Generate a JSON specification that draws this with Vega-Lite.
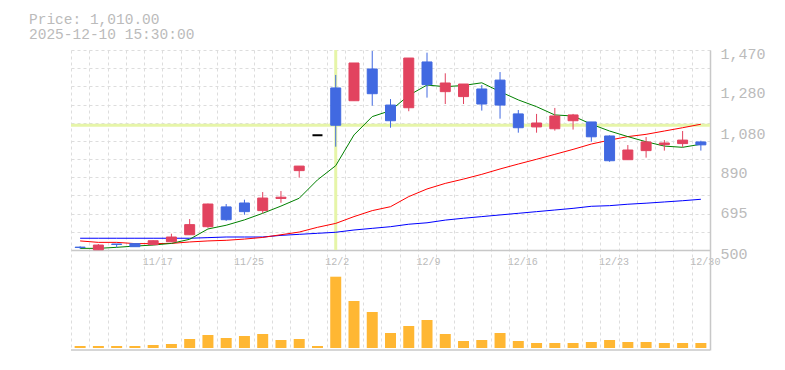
{
  "$schema": "https://vega.github.io/schema/vega-lite/v6.json",
  "width": 639,
  "height": 300,
  "autosize": {"type": "none"},
  "padding": {"left": 71, "top": 50, "right": 75, "bottom": 20},
  "background": "white",
  "config": {"view": {"stroke": null}, "font": "Liberation Mono"},
  "title": {
    "text": ["Price: 1,010.00", "2025-12-10 15:30:00"],
    "anchor": "start", "frame": "group", "orient": "top",
    "offset": 27, "dx": -42, "dy": 34, "baseline": "alphabetic", "lineHeight": 15,
    "font": "Liberation Mono", "fontSize": 14.5, "fontWeight": "normal", "color": "#bbbbbb"
  },
  "data": {"values": [
    {"date": "11/11", "open": 514, "high": 518, "low": 506, "close": 512, "volume": 20, "ma5": 508, "ma25": 544, "ma75": 557},
    {"date": "11/12", "open": 501, "high": 529, "low": 501, "close": 524, "volume": 20, "ma5": 508, "ma25": 537, "ma75": 557},
    {"date": "11/13", "open": 529, "high": 529, "low": 513, "close": 527, "volume": 20, "ma5": 513, "ma25": 537, "ma75": 557},
    {"date": "11/14", "open": 531, "high": 531, "low": 516, "close": 516, "volume": 20, "ma5": 519, "ma25": 531, "ma75": 557},
    {"date": "11/17", "open": 526, "high": 547, "low": 526, "close": 545, "volume": 30, "ma5": 524, "ma25": 531, "ma75": 557},
    {"date": "11/18", "open": 540, "high": 579, "low": 540, "close": 563, "volume": 40, "ma5": 532, "ma25": 532, "ma75": 557},
    {"date": "11/19", "open": 574, "high": 650, "low": 574, "close": 623, "volume": 90, "ma5": 552, "ma25": 539, "ma75": 557},
    {"date": "11/20", "open": 613, "high": 725, "low": 608, "close": 723, "volume": 130, "ma5": 602, "ma25": 544, "ma75": 560},
    {"date": "11/21", "open": 709, "high": 723, "low": 641, "close": 647, "volume": 100, "ma5": 620, "ma25": 547, "ma75": 563},
    {"date": "11/25", "open": 728, "high": 744, "low": 671, "close": 686, "volume": 120, "ma5": 646, "ma25": 553, "ma75": 563},
    {"date": "11/26", "open": 691, "high": 781, "low": 678, "close": 752, "volume": 140, "ma5": 678, "ma25": 561, "ma75": 563},
    {"date": "11/27", "open": 750, "high": 786, "low": 729, "close": 756, "volume": 80, "ma5": 713, "ma25": 574, "ma75": 571},
    {"date": "11/28", "open": 885, "high": 907, "low": 851, "close": 907, "volume": 90, "ma5": 751, "ma25": 587, "ma75": 576},
    {"date": "12/1", "open": 1057, "high": 1057, "low": 1057, "close": 1057, "volume": 20, "ma5": 840, "ma25": 610, "ma75": 581},
    {"date": "12/2", "open": 1286, "high": 1349, "low": 1001, "close": 1105, "volume": 713, "ma5": 909, "ma25": 629, "ma75": 586},
    {"date": "12/3", "open": 1224, "high": 1407, "low": 1224, "close": 1407, "volume": 470, "ma5": 1058, "ma25": 662, "ma75": 597},
    {"date": "12/4", "open": 1378, "high": 1465, "low": 1200, "close": 1258, "volume": 360, "ma5": 1147, "ma25": 691, "ma75": 605},
    {"date": "12/5", "open": 1203, "high": 1232, "low": 1093, "close": 1127, "volume": 150, "ma5": 1176, "ma25": 710, "ma75": 613},
    {"date": "12/8", "open": 1190, "high": 1431, "low": 1173, "close": 1431, "volume": 220, "ma5": 1250, "ma25": 759, "ma75": 625},
    {"date": "12/9", "open": 1412, "high": 1457, "low": 1239, "close": 1302, "volume": 280, "ma5": 1300, "ma25": 796, "ma75": 632},
    {"date": "12/10", "open": 1268, "high": 1357, "low": 1208, "close": 1310, "volume": 140, "ma5": 1292, "ma25": 823, "ma75": 645},
    {"date": "12/11", "open": 1244, "high": 1305, "low": 1208, "close": 1305, "volume": 70, "ma5": 1298, "ma25": 844, "ma75": 654},
    {"date": "12/12", "open": 1281, "high": 1300, "low": 1176, "close": 1208, "volume": 80, "ma5": 1311, "ma25": 867, "ma75": 662},
    {"date": "12/15", "open": 1324, "high": 1363, "low": 1137, "close": 1203, "volume": 150, "ma5": 1268, "ma25": 893, "ma75": 670},
    {"date": "12/16", "open": 1160, "high": 1179, "low": 1069, "close": 1093, "volume": 70, "ma5": 1228, "ma25": 917, "ma75": 678},
    {"date": "12/17", "open": 1097, "high": 1160, "low": 1069, "close": 1116, "volume": 50, "ma5": 1195, "ma25": 940, "ma75": 686},
    {"date": "12/18", "open": 1088, "high": 1189, "low": 1079, "close": 1150, "volume": 50, "ma5": 1155, "ma25": 964, "ma75": 694},
    {"date": "12/19", "open": 1127, "high": 1160, "low": 1084, "close": 1155, "volume": 50, "ma5": 1150, "ma25": 988, "ma75": 702},
    {"date": "12/22", "open": 1121, "high": 1121, "low": 1025, "close": 1049, "volume": 60, "ma5": 1110, "ma25": 1014, "ma75": 712},
    {"date": "12/23", "open": 1053, "high": 1056, "low": 928, "close": 933, "volume": 80, "ma5": 1077, "ma25": 1033, "ma75": 715},
    {"date": "12/24", "open": 938, "high": 1009, "low": 938, "close": 985, "volume": 60, "ma5": 1050, "ma25": 1050, "ma75": 722},
    {"date": "12/25", "open": 982, "high": 1048, "low": 948, "close": 1024, "volume": 60, "ma5": 1025, "ma25": 1061, "ma75": 727},
    {"date": "12/26", "open": 1011, "high": 1033, "low": 982, "close": 1019, "volume": 50, "ma5": 1004, "ma25": 1077, "ma75": 733},
    {"date": "12/29", "open": 1016, "high": 1077, "low": 1000, "close": 1033, "volume": 50, "ma5": 998, "ma25": 1093, "ma75": 739},
    {"date": "12/30", "open": 1024, "high": 1030, "low": 982, "close": 1010, "volume": 50, "ma5": 1013, "ma25": 1110, "ma75": 746}
  ]},
  "layer": [
    {
      "layer": [
        {
          "transform": [{"filter": "datum.date == '12/2'"}],
          "mark": {"type": "rule", "color": "#e6f5a8", "strokeWidth": 3},
          "encoding": {
            "y": {"field": "close", "type": "quantitative", "scale": {"domain": [15, 1470], "nice": false, "zero": false}, "axis": null}
          }
        },
        {
          "transform": [{"filter": "datum.date == '12/2'"}],
          "mark": {"type": "rule", "color": "#e6f5a8", "strokeWidth": 3},
          "encoding": {
            "x": {"field": "date", "type": "ordinal", "sort": null,
              "scale": {"domain": ["11/11","11/12","11/13","11/14","11/17","11/18","11/19","11/20","11/21","11/25","11/26","11/27","11/28","12/1","12/2","12/3","12/4","12/5","12/8","12/9","12/10","12/11","12/12","12/15","12/16","12/17","12/18","12/19","12/22","12/23","12/24","12/25","12/26","12/29","12/30"], "paddingInner": 0, "paddingOuter": 0}},
            "y": {"datum": 500, "type": "quantitative", "scale": {"domain": [15, 1470], "nice": false, "zero": false}, "axis": null},
            "y2": {"datum": 1470}
          }
        },
        {
          "mark": {"type": "line", "color": "#0000ff", "strokeWidth": 1},
          "encoding": {
            "x": {
              "field": "date", "type": "ordinal", "sort": null,
              "scale": {"domain": ["11/11","11/12","11/13","11/14","11/17","11/18","11/19","11/20","11/21","11/25","11/26","11/27","11/28","12/1","12/2","12/3","12/4","12/5","12/8","12/9","12/10","12/11","12/12","12/15","12/16","12/17","12/18","12/19","12/22","12/23","12/24","12/25","12/26","12/29","12/30"], "paddingInner": 0, "paddingOuter": 0},
              "axis": {
                "orient": "bottom", "offset": -100, "title": null,
                "tickBand": "extent", "ticks": false,
                "grid": true, "gridColor": "#dddddd", "gridDash": [3, 3], "gridWidth": 1,
                "domain": true, "domainColor": "#c8c8c8", "domainWidth": 1.5,
                "labelExpr": "indexof(['11/17','11/25','12/2','12/9','12/16','12/23','12/30'], datum.value) >= 0 ? datum.value : ''",
                "labelAlign": "left", "labelOffset": -11, "labelPadding": 6, "labelBaseline": "top",
                "labelAngle": 0, "labelOverlap": false, "labelBound": false,
                "labelFont": "Liberation Mono", "labelFontSize": 10, "labelColor": "#bbbbbb"
              }
            },
            "y": {"field": "ma75", "type": "quantitative", "scale": {"domain": [15, 1470], "nice": false, "zero": false},
              "axis": {"orient": "left", "values": [1470, 1381.8, 1293.6, 1205.5, 1117.3, 1029.1, 940.9, 852.7, 764.5, 676.4, 588.2],
                "labels": false, "ticks": false, "domain": false, "grid": true, "gridDash": [3, 3], "gridColor": "#dddddd", "gridWidth": 1, "title": null}}
          }
        },
        {
          "mark": {"type": "line", "color": "#ff0000", "strokeWidth": 1},
          "encoding": {
            "x": {"field": "date", "type": "ordinal", "sort": null,
              "scale": {"domain": ["11/11","11/12","11/13","11/14","11/17","11/18","11/19","11/20","11/21","11/25","11/26","11/27","11/28","12/1","12/2","12/3","12/4","12/5","12/8","12/9","12/10","12/11","12/12","12/15","12/16","12/17","12/18","12/19","12/22","12/23","12/24","12/25","12/26","12/29","12/30"], "paddingInner": 0, "paddingOuter": 0}},
            "y": {"field": "ma25", "type": "quantitative", "scale": {"domain": [15, 1470], "nice": false, "zero": false}, "axis": null}
          }
        },
        {
          "mark": {"type": "line", "color": "#008000", "strokeWidth": 1},
          "encoding": {
            "x": {"field": "date", "type": "ordinal", "sort": null,
              "scale": {"domain": ["11/11","11/12","11/13","11/14","11/17","11/18","11/19","11/20","11/21","11/25","11/26","11/27","11/28","12/1","12/2","12/3","12/4","12/5","12/8","12/9","12/10","12/11","12/12","12/15","12/16","12/17","12/18","12/19","12/22","12/23","12/24","12/25","12/26","12/29","12/30"], "paddingInner": 0, "paddingOuter": 0}},
            "y": {"field": "ma5", "type": "quantitative", "scale": {"domain": [15, 1470], "nice": false, "zero": false}, "axis": null}
          }
        },
        {
          "mark": {"type": "rule", "strokeWidth": 1},
          "encoding": {
            "x": {"field": "date", "type": "ordinal", "sort": null,
              "scale": {"domain": ["11/11","11/12","11/13","11/14","11/17","11/18","11/19","11/20","11/21","11/25","11/26","11/27","11/28","12/1","12/2","12/3","12/4","12/5","12/8","12/9","12/10","12/11","12/12","12/15","12/16","12/17","12/18","12/19","12/22","12/23","12/24","12/25","12/26","12/29","12/30"], "paddingInner": 0, "paddingOuter": 0}},
            "y": {"field": "low", "type": "quantitative", "scale": {"domain": [15, 1470], "nice": false, "zero": false},
              "axis": {"orient": "right", "values": [500, 695, 890, 1080, 1280, 1470], "format": ",.0f", "title": null,
                "grid": false, "ticks": false, "domain": true, "domainColor": "#c8c8c8", "domainWidth": 1.5,
                "labelPadding": 10, "labelOffset": 3, "labelFont": "Liberation Mono", "labelFontSize": 15, "labelColor": "#bbbbbb"}},
            "y2": {"field": "high"},
            "color": {"condition": [{"test": "datum.close > datum.open", "value": "#e2435f"}, {"test": "datum.close < datum.open", "value": "#4169e1"}], "value": "#000000"}
          }
        },
        {
          "mark": {"type": "bar", "size": 10},
          "encoding": {
            "x": {"field": "date", "type": "ordinal", "sort": null,
              "scale": {"domain": ["11/11","11/12","11/13","11/14","11/17","11/18","11/19","11/20","11/21","11/25","11/26","11/27","11/28","12/1","12/2","12/3","12/4","12/5","12/8","12/9","12/10","12/11","12/12","12/15","12/16","12/17","12/18","12/19","12/22","12/23","12/24","12/25","12/26","12/29","12/30"], "paddingInner": 0, "paddingOuter": 0}},
            "y": {"field": "open", "type": "quantitative", "scale": {"domain": [15, 1470], "nice": false, "zero": false}, "axis": null},
            "y2": {"field": "close"},
            "color": {"condition": [{"test": "datum.close > datum.open", "value": "#e2435f"}, {"test": "datum.close < datum.open", "value": "#4169e1"}], "value": "#000000"},
            "stroke": {"condition": [{"test": "datum.close > datum.open", "value": "#e2435f"}, {"test": "datum.close < datum.open", "value": "#4169e1"}], "value": "#000000"},
            "strokeWidth": {"condition": {"test": "datum.close == datum.open", "value": 2}, "value": 1}
          }
        }
      ],
      "resolve": {"axis": {"y": "independent"}}
    },
    {
      "layer": [
        {
          "mark": {"type": "bar", "size": 11, "color": "#ffb733"},
          "encoding": {
            "x": {"field": "date", "type": "ordinal", "sort": null,
              "scale": {"domain": ["11/11","11/12","11/13","11/14","11/17","11/18","11/19","11/20","11/21","11/25","11/26","11/27","11/28","12/1","12/2","12/3","12/4","12/5","12/8","12/9","12/10","12/11","12/12","12/15","12/16","12/17","12/18","12/19","12/22","12/23","12/24","12/25","12/26","12/29","12/30"], "paddingInner": 0, "paddingOuter": 0}},
            "y": {"field": "volume", "type": "quantitative", "scale": {"domain": [-20, 2980], "nice": false, "zero": false}, "axis": null},
            "y2": {"datum": 0}
          }
        },
        {
          "transform": [{"filter": "datum.date == '12/30'"}],
          "mark": {"type": "rule", "color": "#c8c8c8", "strokeWidth": 1.5},
          "encoding": {
            "y": {"datum": -20, "type": "quantitative", "scale": {"domain": [-20, 2980], "nice": false, "zero": false}, "axis": null}
          }
        }
      ]
    }
  ],
  "resolve": {"scale": {"y": "independent"}, "axis": {"y": "independent"}}
}
